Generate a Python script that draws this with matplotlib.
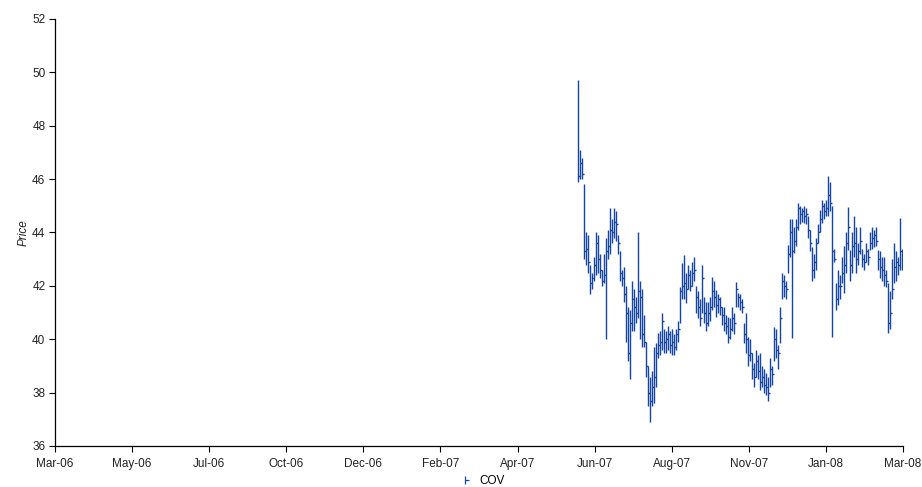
import numpy as np
import pandas as pd
import matplotlib
matplotlib.use('Agg')
import matplotlib.pyplot as plt
import matplotlib.dates as mdates
from matplotlib.lines import Line2D
from matplotlib.legend_handler import HandlerTuple

# data (high / low / close), one bar every ~1.7 trading days
high = [49.7, 47.1, 46.8, 45.8, 44.0, 43.9, 42.8, 42.5, 43.1, 44.0,
        43.9, 43.2, 42.6, 43.2, 43.8, 44.1, 44.9, 44.5, 44.9, 44.8,
        43.9, 43.3, 42.6, 42.7, 42.0, 41.2, 41.1, 42.2, 41.9, 41.6,
        44.0, 42.2, 41.9, 40.9, 39.9, 39.0, 38.6, 38.8, 39.7, 39.85,
        40.25, 40.3, 41.0, 40.4, 40.3, 40.5, 40.3, 40.4, 40.2, 40.4,
        40.7, 41.95, 42.85, 43.15, 42.5, 42.8, 42.6, 42.9, 43.1, 42.0,
        41.8, 41.5, 42.8, 41.6, 41.4, 41.4, 41.6, 42.35, 42.2, 41.85,
        41.7, 41.6, 41.2, 41.2, 40.9, 40.85, 40.8, 41.2, 41.0, 42.15,
        41.75, 41.7, 41.5, 40.6, 41.0, 40.1, 40.0, 39.5, 39.1, 39.6,
        39.4, 39.5, 39.0, 38.9, 38.75, 38.6, 39.3, 39.0, 40.45, 40.4,
        39.8, 41.2, 42.5, 42.4, 42.2, 43.55, 44.5, 44.5, 44.2, 44.5,
        45.1, 45.0, 44.9, 45.0, 44.9, 44.6, 44.1, 43.45, 43.2, 43.8,
        44.3, 44.85, 45.2, 45.1, 45.2, 46.1, 45.9, 45.0, 43.4, 42.1,
        42.6, 42.4, 43.1, 43.5, 44.0, 44.95, 43.35, 44.0, 44.6, 44.2,
        43.6, 44.2, 43.4, 43.2, 43.6, 43.4, 44.0, 44.2, 44.1, 44.2,
        43.35, 43.3, 43.1, 43.1, 42.6, 42.1, 41.8, 43.0, 43.6, 43.3,
        43.1, 44.55, 43.4]
low = [45.9, 46.0, 46.0, 43.0, 42.8, 42.5, 41.7, 41.9, 42.2, 42.4,
       42.5, 42.3, 42.0, 42.1, 40.0, 43.0, 43.2, 43.6, 43.8, 43.7,
       43.2, 42.2, 42.0, 41.4, 39.9, 39.2, 38.5, 40.3, 40.3, 40.6,
       40.8, 40.0, 39.7, 39.7, 38.6, 37.5, 36.9, 37.5, 37.6, 38.2,
       39.3, 39.4, 39.6, 39.5, 39.5, 39.6, 39.5, 39.4, 39.4, 39.6,
       39.9, 40.6, 41.5, 41.5, 41.35, 41.9, 41.8, 42.0, 42.2, 41.0,
       40.8, 40.5, 41.0, 40.6, 40.3, 40.5, 40.7, 41.1, 41.2, 40.85,
       41.0, 40.9, 40.55, 40.3, 40.2, 39.85, 40.0, 40.3, 40.2, 41.2,
       41.2, 41.1, 41.0, 39.85, 39.5, 39.0, 39.2, 38.5, 38.2, 38.6,
       38.5, 38.1, 38.2, 38.0, 37.9, 37.7, 38.2, 38.3, 39.2, 39.3,
       38.9, 39.85, 41.5, 41.6, 41.5, 42.5, 43.1, 40.05, 43.25, 43.5,
       44.1, 44.3, 44.4, 44.35, 44.3, 43.8, 43.3, 42.2, 42.3, 42.6,
       43.6, 44.0, 44.35, 44.5, 44.6, 44.6, 44.8, 40.1, 42.9, 41.1,
       41.3, 41.5, 42.1, 41.75, 42.5, 43.35, 42.2, 42.5, 43.1, 42.5,
       42.8, 43.2, 42.7, 42.6, 42.9, 42.8, 43.35, 43.4, 43.45, 43.5,
       42.6, 42.3, 42.2, 42.0, 41.95, 40.25, 40.4, 41.5, 42.1, 42.2,
       42.4, 42.6, 42.6]
close = [46.1, 46.6, 46.2, 43.3, 43.4, 42.9, 42.1, 42.3, 42.8, 43.6,
         43.0, 42.6, 42.2, 42.4, 43.3, 43.5, 44.1, 44.0, 44.4, 44.3,
         43.6, 42.5, 42.3, 41.7, 41.0, 39.5, 40.6, 41.5, 41.2, 41.0,
         41.8, 41.6, 40.2, 39.9, 39.0, 38.0, 37.7, 38.2, 38.6, 39.5,
         39.8, 39.9, 40.7, 39.9, 40.0, 40.2, 39.8, 39.9, 39.7, 40.2,
         40.4, 41.8, 42.0, 42.1, 41.9, 42.4, 42.0, 42.5, 42.6, 41.6,
         41.2, 40.8, 42.3, 41.0, 40.6, 41.0, 41.2, 41.8, 41.6, 41.3,
         41.5, 41.2, 40.9, 40.6, 40.5, 40.1, 40.4, 40.8, 40.6, 41.9,
         41.6, 41.4, 41.2, 40.2, 40.0, 39.4, 39.5, 38.9, 38.6, 39.2,
         38.8, 38.4, 38.6, 38.3, 38.2, 38.0, 38.9, 38.7, 40.0, 39.6,
         39.5, 40.8, 42.2, 42.0, 41.9, 43.2, 44.0, 43.3, 43.7, 44.2,
         44.9, 44.7, 44.8, 44.6, 44.7, 44.1, 43.6, 42.6, 42.9, 43.6,
         44.0, 44.5, 45.0, 44.8, 44.9, 45.4, 45.1, 43.3, 43.0, 41.5,
         42.0, 42.0, 42.5, 42.8, 43.6, 44.2, 42.8, 43.5, 43.6, 43.0,
         43.3, 43.7, 43.0, 42.9, 43.3, 43.1, 43.6, 43.8, 43.9, 43.7,
         43.0, 42.7, 42.6, 42.4, 42.2, 40.6, 41.0, 41.9, 42.7, 42.9,
         42.8, 43.3, 43.0]
first_day = '2007-05-26'
last_day = '2008-02-29'
series_name = 'COV'

x_start = '2006-03-01'
x_end = '2008-03-01'
x_labels = ['Mar-06', 'May-06', 'Jul-06', 'Oct-06', 'Dec-06', 'Feb-07',
            'Apr-07', 'Jun-07', 'Aug-07', 'Nov-07', 'Jan-08', 'Mar-08']
y_ticks = np.arange(36, 53, 2)

days = pd.date_range(first_day, last_day, periods=len(high))
xd = mdates.date2num(days)

bar_color = '#1445a3'
text_color = '#222222'
plt.rcParams['font.family'] = ['Liberation Sans', 'DejaVu Sans']
plt.rcParams['font.size'] = 8.5

fig = plt.figure(figsize=(9.22, 4.87), dpi=100)
ax = fig.add_axes([0.0597, 0.0842, 0.9197, 0.8768])

# high-low bars with a close tick on the right
ax.vlines(xd, low, high, color=bar_color, linewidth=1.0)
ax.hlines(close, xd, xd + 1.6, color=bar_color, linewidth=1.0)

# axes
x0 = mdates.date2num(pd.Timestamp(x_start))
x1 = mdates.date2num(pd.Timestamp(x_end))
ax.set_xlim(x0, x1)
ax.set_ylim(36, 52)
ax.set_xticks(np.linspace(x0, x1, len(x_labels)))
ax.set_xticklabels(x_labels)
ax.set_yticks(y_ticks)
ax.set_yticklabels([str(v) for v in y_ticks])
ax.tick_params(axis='both', direction='out', length=4, width=0.8,
               colors='black', labelcolor=text_color, pad=3)
ax.tick_params(axis='x', pad=5)
ax.spines['right'].set_visible(False)
ax.spines['top'].set_visible(False)
ax.spines['left'].set_linewidth(0.9)
ax.spines['bottom'].set_linewidth(0.9)
ax.set_ylabel('Price', fontstyle='italic', color=text_color, labelpad=2)

# legend symbol: vertical bar plus right tick, drawn on top of each other
h_bar = Line2D([], [], color=bar_color, marker='|', markersize=6,
               linestyle='none', markeredgewidth=0.9)
h_tick = Line2D([], [], color=bar_color, marker=1, markersize=3,
                linestyle='none', markeredgewidth=0.9)
fig.legend([(h_bar, h_tick)], [series_name],
           handler_map={tuple: HandlerTuple(ndivide=1, pad=0)},
           loc='center', bbox_to_anchor=(0.522, 0.013), frameon=False,
           handlelength=1.2, handletextpad=0.6, fontsize=8.5)

fig.savefig('out.png', dpi=100)
